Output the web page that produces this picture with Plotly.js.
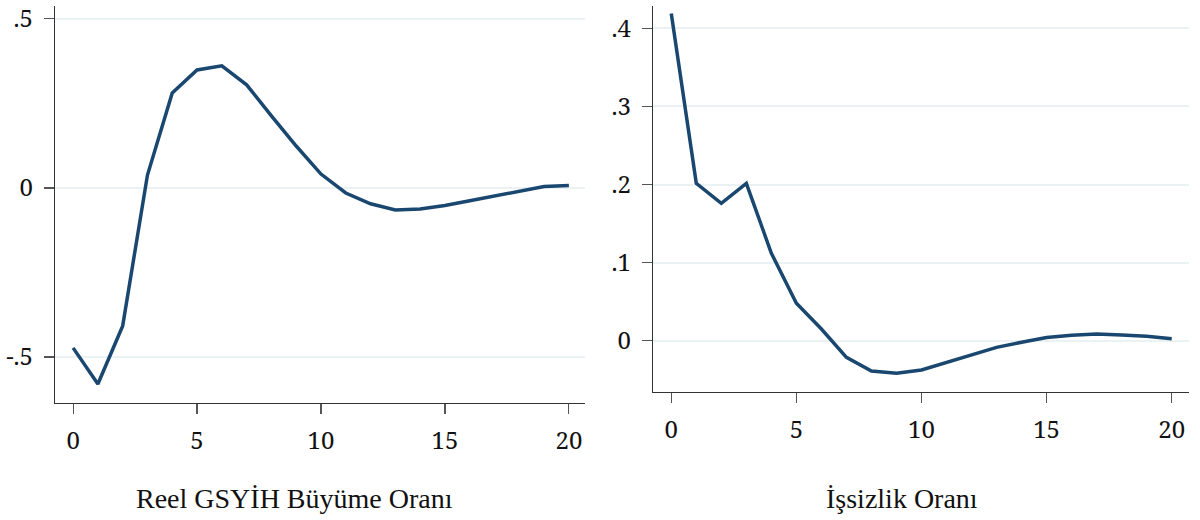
<!DOCTYPE html>
<html>
<head>
<meta charset="utf-8">
<script src="https://cdn.plot.ly/plotly-3.0.1.min.js"></script>
<style>
html,body{margin:0;padding:0;background:#fff;}
#chart{width:1200px;height:520px;}
#fontwarm{position:absolute;left:0;top:0;visibility:hidden;pointer-events:none;}
</style>
</head>
<body>
<div id="fontwarm" aria-hidden="true"><span style="font-family:'Liberation Serif';font-size:28px">İşsizlik Oranı</span><span style="font-family:'Noto Serif';font-size:24px">0.5-</span></div>
<div id="chart"></div>
<script>
// Horizon (steps)
var steps = [0,1,2,3,4,5,6,7,8,9,10,11,12,13,14,15,16,17,18,19,20];
// Response of real GDP growth
var gdpResponse = [-0.473,-0.580,-0.408,0.038,0.281,0.349,0.361,0.305,0.213,0.124,0.041,-0.015,-0.047,-0.065,-0.062,-0.052,-0.038,-0.024,-0.008,0.004,0.007];
// Response of unemployment rate
var unempResponse = [0.419,0.2015,0.176,0.2015,0.112,0.048,0.015,-0.0213,-0.0388,-0.0418,-0.0375,-0.028,-0.0175,-0.0085,-0.002,0.004,0.007,0.0086,0.0073,0.0056,0.0026];

var leftTitle = "Reel GSYİH Büyüme Oranı";
var rightTitle = "İşsizlik Oranı";
var xTickVals = [0,5,10,15,20];
var xTickText = ["0","5","10","15","20"];
var leftYTickVals = [-0.5,0,0.5];
var leftYTickText = ["-.5","0",".5"];
var rightYTickVals = [0,0.1,0.2,0.3,0.4];
var rightYTickText = ["0",".1",".2",".3",".4"];

var lineColor = "#1a476f";
var titleFont = "Liberation Serif";
var tickFontFam = "Noto Serif";

var traces = [
  {x: steps, y: gdpResponse, type: "scatter", mode: "lines", xaxis: "x", yaxis: "y",
   line: {color: lineColor, width: 3.5}, hoverinfo: "x+y"},
  {x: steps, y: unempResponse, type: "scatter", mode: "lines", xaxis: "x2", yaxis: "y2",
   line: {color: lineColor, width: 3.5}, hoverinfo: "x+y"}
];

function axisBase(){
  return {
    showgrid: false, zeroline: false, showline: true, linecolor: "#333", linewidth: 1.2,
    ticks: "outside", ticklen: 10, tickwidth: 1.2, tickcolor: "#555",
    tickfont: {family: tickFontFam, size: 24, color: "#111"}
  };
}
function ax(o){ var r = axisBase(); for (var k in o) r[k] = o[k]; return r; }

var layout = {
  width: 1200, height: 520,
  margin: {l: 0, r: 0, t: 0, b: 0},
  paper_bgcolor: "#fff", plot_bgcolor: "#fff",
  showlegend: false,
  xaxis: ax({domain: [55/1200, 585/1200], range: [-0.73, 20.65], tickmode: "array",
             tickvals: xTickVals, ticktext: xTickText, anchor: "y", ticklabelstandoff: 6}),
  yaxis: ax({domain: [1-403/520, 1-6/520], range: [-0.636, 0.538], tickmode: "array",
             tickvals: leftYTickVals, ticktext: leftYTickText, anchor: "x",
             showgrid: true, gridcolor: "#eaf2f3", gridwidth: 2, ticklabelstandoff: 6}),
  xaxis2: ax({domain: [653/1200, 1189/1200], range: [-0.73, 20.69], tickmode: "array",
              tickvals: xTickVals, ticktext: xTickText, anchor: "y2", ticklabelstandoff: 6}),
  yaxis2: ax({domain: [1-391.7/520, 1-6/520], range: [-0.0653, 0.4286], tickmode: "array",
              tickvals: rightYTickVals, ticktext: rightYTickText, anchor: "x2",
              showgrid: true, gridcolor: "#eaf2f3", gridwidth: 2, ticklabelstandoff: 6}),
  annotations: [
    {text: leftTitle, xref: "paper", yref: "paper", x: 294.5/1200, y: 1-498/520,
     xanchor: "center", yanchor: "middle", showarrow: false,
     font: {family: titleFont, size: 28, color: "#111"}},
    {text: rightTitle, xref: "paper", yref: "paper", x: 901.7/1200, y: 1-498/520,
     xanchor: "center", yanchor: "middle", showarrow: false,
     font: {family: titleFont, size: 28, color: "#111"}}
  ]
};

Plotly.newPlot("chart", traces, layout, {displayModeBar: false, staticPlot: true});
</script>
</body>
</html>
